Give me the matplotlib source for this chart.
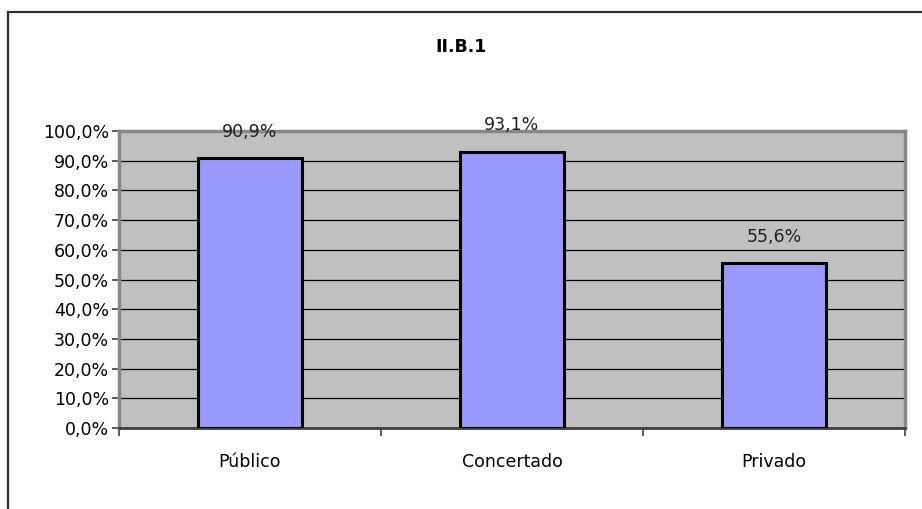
import matplotlib
matplotlib.use('Agg')
import matplotlib.pyplot as plt
from matplotlib.patches import Rectangle

# share of each school type, in percent
categories = ['Público', 'Concertado', 'Privado']
values = [90.9, 93.1, 55.6]
yticks = [0, 10, 20, 30, 40, 50, 60, 70, 80, 90, 100]
title = 'II.B.1'

plt.rcParams['font.family'] = 'DejaVu Sans'

fig = plt.figure(figsize=(9.22, 5.09), dpi=100)
ax = fig.add_axes([0.129, 0.159, 0.8526, 0.5836])

# outer chart frame (open on right and bottom like the reference crop)
fig.patches.append(Rectangle((8 / 922, -0.1), 1.2, 1 - 12 / 509 + 0.1,
                             transform=fig.transFigure, fill=False,
                             edgecolor='#303030', linewidth=1.6))

x = range(len(categories))
ax.set_facecolor('#C0C0C0')
ax.bar(x, values, width=0.4, color='#9999FF', edgecolor='black',
       linewidth=2.2, zorder=3)

ax.set_xlim(-0.5, len(categories) - 0.5)
ax.set_ylim(0, 100)
ax.set_yticks(yticks)
ax.yaxis.set_major_formatter(matplotlib.ticker.FuncFormatter(
    lambda v, p: ('%.1f%%' % v).replace('.', ',')))
ax.grid(axis='y', color='black', linewidth=0.9, zorder=1)

# category ticks sit on the boundaries, labels in the middle
ax.set_xticks([i - 0.5 for i in range(len(categories) + 1)])
ax.set_xticklabels([])
ax.set_xticks(list(x), minor=True)
ax.set_xticklabels(categories, minor=True)
ax.tick_params(axis='x', which='minor', length=0, pad=18, labelsize=12.5)
ax.tick_params(axis='x', which='major', length=6, width=1.2, color='#404040')
ax.tick_params(axis='y', length=5, width=1.2, color='#404040', labelsize=12.5,
               pad=2)

for side in ['left', 'top', 'right']:
    ax.spines[side].set_color('#888888')
    ax.spines[side].set_linewidth(2.5)
ax.spines['bottom'].set_color('#404040')
ax.spines['bottom'].set_linewidth(2)

for i, v in enumerate(values):
    ax.annotate(('%.1f%%' % v).replace('.', ','), (i, v),
                xytext=(0, 19), textcoords='offset points',
                ha='center', va='center', fontsize=12.5, color='#202020',
                zorder=4)

fig.text(461 / 922, 1 - 47 / 509, title, ha='center', va='center',
         fontsize=12.5, fontweight='bold')

plt.savefig('out.png', dpi=100)
